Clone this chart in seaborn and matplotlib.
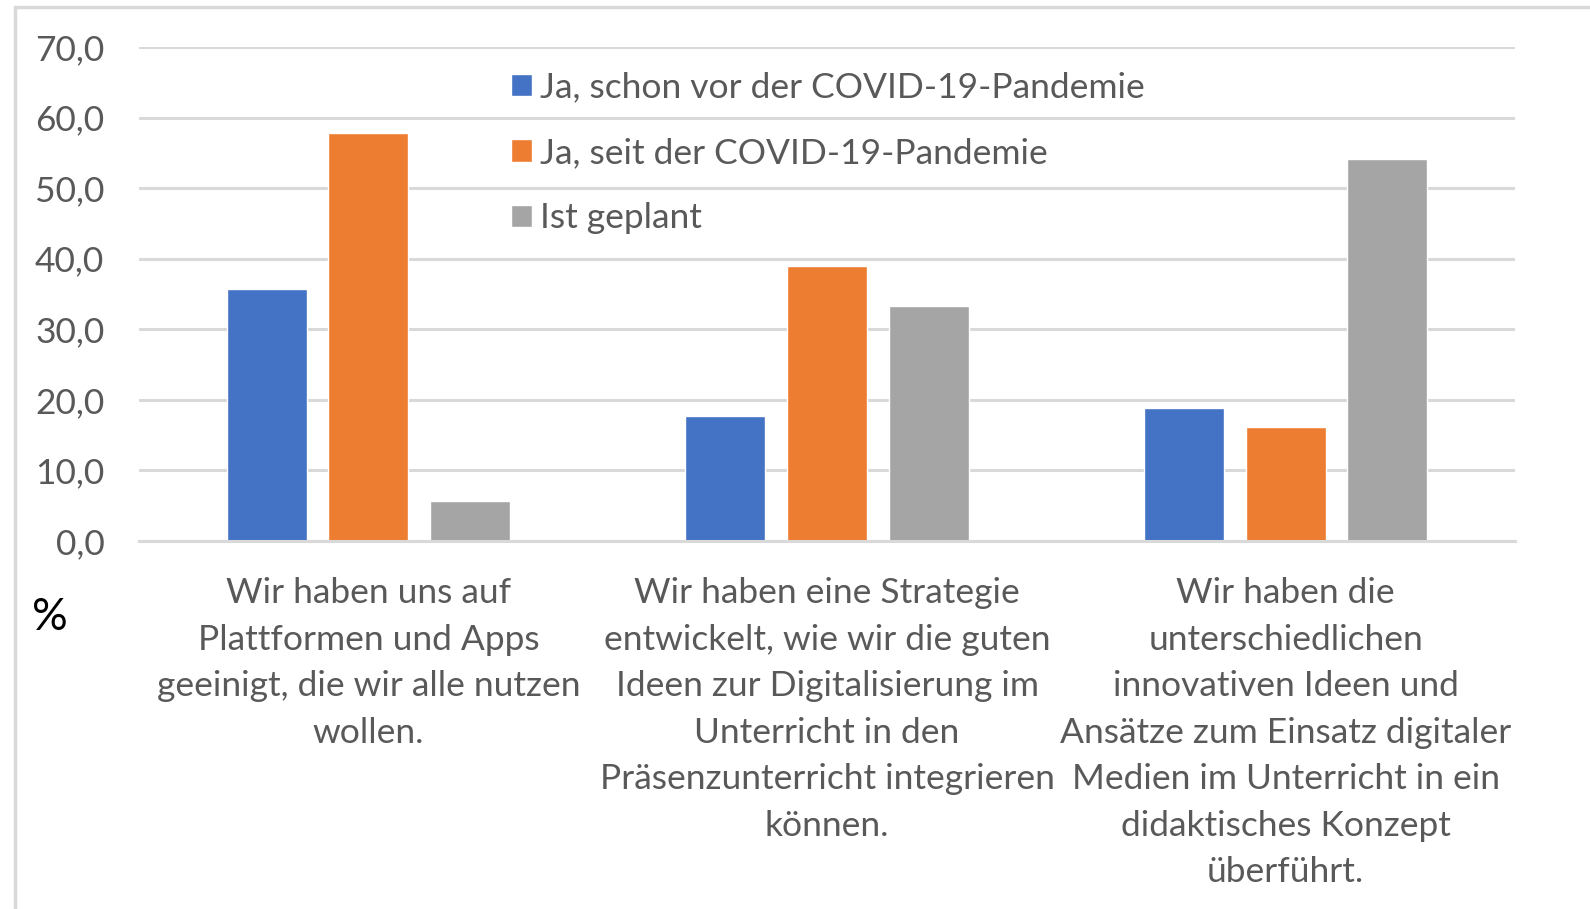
import pandas as pd
import matplotlib.pyplot as plt
import seaborn as sns
from matplotlib.patches import Rectangle

# Daten
kategorien = [
    "Wir haben uns auf\nPlattformen und Apps\ngeeinigt, die wir alle nutzen\nwollen.",
    "Wir haben eine Strategie\nentwickelt, wie wir die guten\nIdeen zur Digitalisierung im\nUnterricht in den\nPräsenzunterricht integrieren\nkönnen.",
    "Wir haben die\nunterschiedlichen\ninnovativen Ideen und\nAnsätze zum Einsatz digitaler\nMedien im Unterricht in ein\ndidaktisches Konzept\nüberführt.",
]
serien = ["Ja, schon vor der COVID-19-Pandemie", "Ja, seit der COVID-19-Pandemie", "Ist geplant"]
werte_vor = [35.7, 17.7, 18.8]
werte_seit = [57.8, 38.9, 16.2]
werte_geplant = [5.6, 33.3, 54.1]
y_ticks = [0, 10, 20, 30, 40, 50, 60, 70]

farben = ["#4472C4", "#ED7D31", "#A5A5A5"]
grau_text = "#595959"

dados = pd.DataFrame({
    "kategorie": kategorien * 3,
    "serie": [serien[0]] * 3 + [serien[1]] * 3 + [serien[2]] * 3,
    "wert": werte_vor + werte_seit + werte_geplant,
})

sns.set_style("white")
plt.rcParams["font.family"] = ["Lato", "DejaVu Sans"]

fig = plt.figure(figsize=(15.9, 9.09), dpi=100)
ax = fig.add_axes([139 / 1590, 1 - 541 / 909, (1515 - 139) / 1590, (541 - 47) / 909])

sns.barplot(data=dados, x="kategorie", y="wert", hue="serie", palette=farben,
            width=0.665, gap=0.21, saturation=1, ax=ax, legend=True)

ax.set_ylim(0, 70)
ax.set_xlim(-0.5, 2.5)
ax.set_yticks(y_ticks)
ax.set_yticklabels([f"{v:.1f}".replace(".", ",") for v in y_ticks])
ax.yaxis.grid(True, color="#D9D9D9", linewidth=2.2)
ax.set_axisbelow(True)
for s in ["top", "right", "left"]:
    ax.spines[s].set_visible(False)
ax.spines["bottom"].set_color("#D9D9D9")
ax.spines["bottom"].set_linewidth(2.2)
ax.tick_params(axis="both", length=0, colors=grau_text, labelsize=25.5)
ax.tick_params(axis="y", pad=25)
ax.tick_params(axis="x", pad=26)
for lbl in ax.get_xticklabels():
    lbl.set_linespacing(1.56)
    lbl.set_verticalalignment("top")
ax.set_xlabel("")
ax.set_ylabel("")

leg = ax.legend(loc="upper left", bbox_to_anchor=(493 / 1590, 1 - 54 / 909),
                bbox_transform=fig.transFigure, frameon=False, fontsize=25.5,
                handlelength=0.6, handleheight=0.6, handletextpad=0.22,
                labelspacing=0.94, borderpad=0)
for t in leg.get_texts():
    t.set_color(grau_text)

fig.text(50 / 1590, 1 - 618 / 909, "%", fontsize=32, color="black",
         ha="center", va="center")

# Rahmen um das Diagramm
fig.patches.append(Rectangle((15 / 1590, -0.1), 1.2, 1 - 7 / 909 + 0.1,
                             transform=fig.transFigure, fill=False,
                             edgecolor="#D9D9D9", linewidth=2.5))

fig.savefig("out.png", dpi=100)
